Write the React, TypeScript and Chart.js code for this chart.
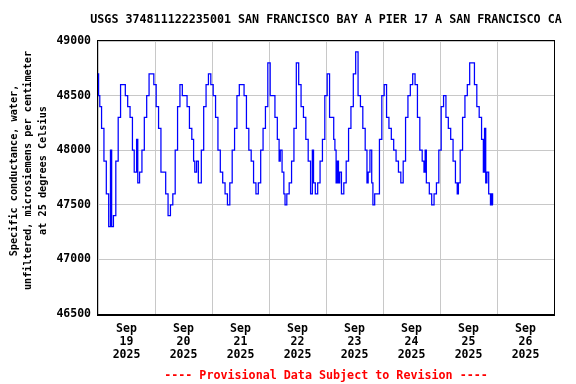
import React, { useEffect, useRef } from "react";
import { Chart, registerables } from "chart.js";

Chart.register(...registerables);

const TITLE = "USGS 374811122235001 SAN FRANCISCO BAY A PIER 17 A SAN FRANCISCO CA";
const Y_TITLE = [
  "Specific conductance, water,",
  "unfiltered, microsiemens per centimeter",
  "at 25 degrees Celsius",
];
const FOOTNOTE = "---- Provisional Data Subject to Revision ----";
const MONTH = "Sep";
const YEAR = "2025";
const DAY_LABELS = ["19", "20", "21", "22", "23", "24", "25", "26"];
const Y_MIN = 46500;
const Y_MAX = 49000;
const Y_STEP = 500;

// hours since Sep 19 2025 00:00
const hours = [
  0, 0.5, 1, 2, 3, 4, 5, 5.5, 6, 7, 8, 9, 10, 11, 12, 13, 14, 15, 15.5, 16, 16.5, 17, 18, 19,
  20, 21, 22, 23, 24, 25, 26, 27, 28, 29, 30, 31, 32, 33, 34, 35, 36, 37, 38, 39, 40, 40.5, 41,
  42, 42.5, 43, 44, 45, 46, 47, 48, 49, 50, 51, 52, 53, 54, 55, 56, 57, 58, 59, 60, 61, 62, 63,
  64, 65, 66, 67, 68, 69, 70, 71, 72, 73, 74, 75, 76, 76.5, 77, 78, 78.5, 79, 80, 81, 82, 83,
  84, 85, 86, 87, 88, 89, 90, 90.5, 91, 92, 93, 94, 95, 96, 97, 98, 99, 99.5, 100, 100.5, 101,
  101.5, 102, 103, 104, 105, 106, 107, 108, 109, 110, 111, 112, 113, 113.5, 114, 115, 115.5,
  116, 117, 118, 119, 120, 121, 122, 123, 124, 125, 126, 127, 128, 129, 130, 131, 132, 133, 134,
  135, 136, 137, 137.5, 138, 138.5, 139, 140, 141, 142, 143, 144, 145, 146, 147, 148, 149, 150,
  151, 151.5, 152, 153, 154, 155, 156, 157, 158, 159, 160, 161, 162, 162.5, 163, 163.5, 164,
  165, 165.5, 166, 166.3,
];

const conductance = [
  48700, 48500, 48400, 48200, 47900, 47600, 47300, 48000, 47300, 47400, 47900, 48300, 48600,
  48600, 48500, 48400, 48300, 48000, 47800, 47800, 48100, 47700, 47800, 48000,
  48300, 48500, 48700, 48700, 48600, 48400, 48200, 47800, 47800, 47600, 47400, 47500, 47600,
  48000, 48400, 48600, 48500, 48500, 48400, 48200, 48100, 47900, 47800,
  47900, 47700, 47700, 48000, 48400, 48600, 48700, 48600, 48500, 48300, 48000, 47800, 47700,
  47600, 47500, 47700, 48000, 48200, 48500, 48600, 48600, 48500, 48200,
  48000, 47900, 47700, 47600, 47700, 48000, 48200, 48400, 48800, 48500, 48500, 48300, 48100,
  47900, 48000, 47800, 47600, 47500, 47600, 47700, 47900, 48200,
  48800, 48600, 48400, 48300, 48100, 47900, 47600, 48000, 47700, 47600, 47700, 47900, 48100,
  48500, 48700, 48300, 48300, 48100, 48000, 47700, 47900,
  47700, 47800, 47600, 47700, 47900, 48200, 48400, 48700, 48900, 48500, 48400, 48200, 48000,
  47700, 47800, 48000, 47700,
  47500, 47600, 47600, 48100, 48500, 48600, 48300, 48200, 48100, 48000, 47900, 47800, 47700,
  47900, 48300, 48500, 48600, 48700, 48600,
  48300, 48000, 47900, 47800, 48000, 47700, 47700, 47600, 47500, 47600, 47700, 48000, 48400,
  48500, 48300, 48200, 48100, 47900,
  47700, 47600, 47700, 48000, 48300, 48500, 48600, 48800, 48800, 48600, 48400, 48300, 48100,
  47800, 48200, 47700, 47800,
  47600, 47500, 47600, 47500,
];

const MONO = "'DejaVu Sans Mono', 'Liberation Mono', monospace";

const textPlugin = {
  id: "usgsText",
  afterDraw(chart: any) {
    const { ctx, chartArea } = chart;
    const cx = (chartArea.left + chartArea.right) / 2;
    ctx.save();
    // frame
    ctx.strokeStyle = "#000000";
    ctx.lineWidth = 1;
    ctx.strokeRect(chartArea.left - 0.5, chartArea.top - 0.5, chartArea.right - chartArea.left + 1, chartArea.bottom - chartArea.top + 1);
    ctx.lineWidth = 2;
    ctx.beginPath();
    ctx.moveTo(chartArea.left - 1, chartArea.bottom + 1);
    ctx.lineTo(chartArea.right + 1, chartArea.bottom + 1);
    ctx.stroke();
    // title
    ctx.fillStyle = "#000000";
    ctx.font = `bold 11.7px ${MONO}`;
    ctx.textAlign = "center";
    ctx.textBaseline = "middle";
    ctx.fillText(TITLE, cx, 20);
    // y title
    ctx.font = `bold 10.2px ${MONO}`;
    const cy = (chartArea.top + chartArea.bottom) / 2 - 7;
    Y_TITLE.forEach((line, i) => {
      ctx.save();
      ctx.translate(14 + i * 14.5, cy);
      ctx.rotate(-Math.PI / 2);
      ctx.fillText(line, 0, 0);
      ctx.restore();
    });
    // footnote
    ctx.fillStyle = "#ff0000";
    ctx.font = `bold 11.7px ${MONO}`;
    ctx.fillText(FOOTNOTE, cx, 376);
    ctx.restore();
  },
};

export default function App() {
  const ref = useRef<HTMLCanvasElement | null>(null);
  useEffect(() => {
    if (!ref.current) return;
    const points = hours.map((h, i) => ({ x: h, y: conductance[i] }));
    const chart = new Chart(ref.current, {
      type: "line",
      data: {
        datasets: [
          {
            data: points,
            borderColor: "#0000ff",
            borderWidth: 1.25,
            pointRadius: 0,
            stepped: "middle",
            fill: false,
          },
        ],
      },
      options: {
        animation: false,
        responsive: false,
        devicePixelRatio: 1,
        layout: { padding: { top: 41, right: 22, left: 0, bottom: 0 } },
        plugins: { legend: { display: false }, tooltip: { enabled: false }, title: { display: false } },
        scales: {
          x: {
            type: "linear",
            min: 0,
            max: DAY_LABELS.length * 24,
            afterBuildTicks: (scale: any) => {
              scale.ticks = DAY_LABELS.map((_, i) => ({ value: i * 24 + 12 }));
            },
            afterFit: (scale: any) => {
              scale.height = 70;
            },
            grid: { color: "#c8c8c8", lineWidth: 1, offset: true, drawTicks: false },
            border: { display: false },
            ticks: {
              autoSkip: false,
              maxRotation: 0,
              padding: 9,
              color: "#000000",
              font: { family: MONO, size: 11.5, weight: "bold", lineHeight: "13px" },
              callback: (value: any) => {
                const i = Math.round((Number(value) - 12) / 24);
                return [MONTH, DAY_LABELS[i] ?? "", YEAR];
              },
            },
          },
          y: {
            min: Y_MIN,
            max: Y_MAX,
            afterFit: (scale: any) => {
              scale.width = 98;
            },
            grid: { color: "#c8c8c8", lineWidth: 1, drawTicks: false },
            border: { display: false },
            ticks: {
              stepSize: Y_STEP,
              padding: 7,
              color: "#000000",
              font: { family: MONO, size: 11.5, weight: "bold" },
              callback: (value: any) => String(value),
            },
          },
        },
      },
      plugins: [textPlugin],
    });
    return () => chart.destroy();
  }, []);
  return (
    <div style={{ position: "absolute", left: 0, top: 0, width: 576, height: 384, background: "#ffffff" }}>
      <canvas ref={ref} width={576} height={384} style={{ display: "block" }} />
    </div>
  );
}
